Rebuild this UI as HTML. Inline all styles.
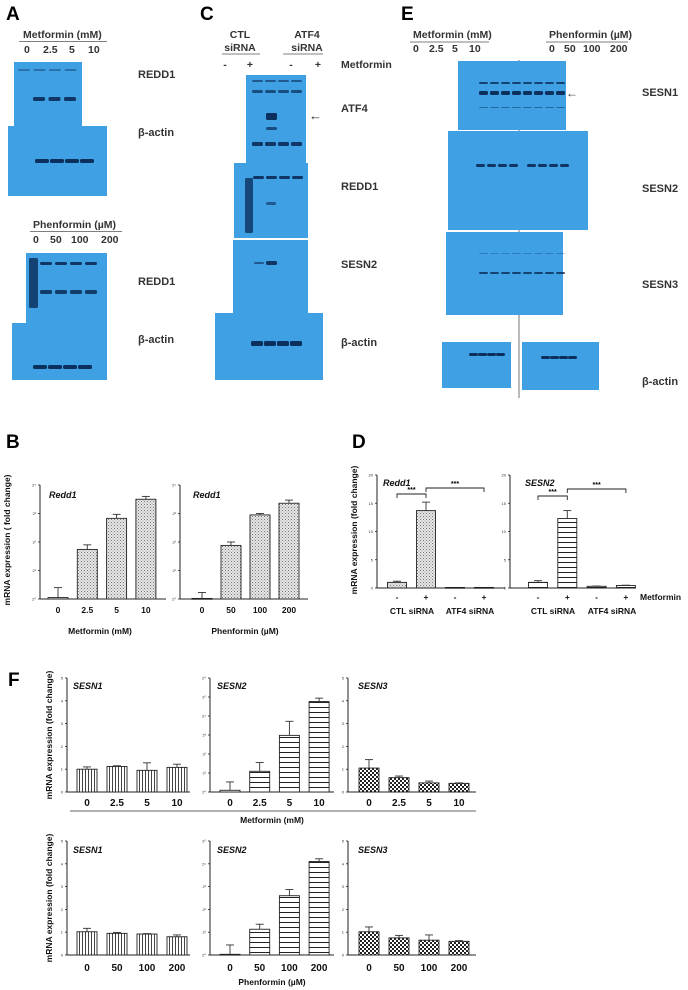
<!DOCTYPE html>
<html><head><meta charset="utf-8"><style>
html,body{margin:0;padding:0;background:#fff;}
svg{display:block;font-family:"Liberation Sans",Arial,sans-serif;}
.lbl{font-weight:bold;font-size:11px;fill:#333;}
.pl{font-weight:bold;font-size:19px;fill:#000;}
.hd{font-weight:bold;font-size:10.5px;fill:#333;}
.tk{font-size:4px;fill:#333;}
.xt{font-weight:bold;font-size:10px;fill:#111;}
.ttl{font-weight:bold;font-style:italic;font-size:9px;fill:#111;}
.ax{font-weight:bold;font-size:8.5px;fill:#111;}
</style></head><body>
<svg id="fig" width="688" height="990" viewBox="0 0 688 990" xmlns="http://www.w3.org/2000/svg">
<defs>
<pattern id="pDots" width="3" height="3" patternUnits="userSpaceOnUse"><rect width="3" height="3" fill="#e6e6e6"/><rect x="0" y="0" width="1" height="1" fill="#777"/><rect x="1.5" y="1.5" width="1" height="1" fill="#999"/></pattern>
<pattern id="pH" width="6" height="5" patternUnits="userSpaceOnUse"><rect width="6" height="5" fill="#fff"/><rect y="2" width="6" height="1" fill="#222"/></pattern>
<pattern id="pV" width="3" height="6" patternUnits="userSpaceOnUse"><rect width="3" height="6" fill="#fff"/><rect x="1" width="1" height="6" fill="#444"/></pattern>
<pattern id="pC" width="4" height="4" patternUnits="userSpaceOnUse"><rect width="4" height="4" fill="#fff"/><rect width="2" height="2" fill="#222"/><rect x="2" y="2" width="2" height="2" fill="#222"/></pattern>
</defs>

<!-- Panel letters -->
<text class="pl" x="6" y="20">A</text>
<text class="pl" x="200" y="20">C</text>
<text class="pl" x="401" y="20">E</text>
<text class="pl" x="6" y="448">B</text>
<text class="pl" x="352" y="448">D</text>
<text class="pl" x="8" y="686">F</text>

<!-- Panel A headers -->
<g>
<text class="hd" x="23" y="38">Metformin (mM)</text>
<line x1="19" y1="41.5" x2="107" y2="41.5" stroke="#555" stroke-width="0.8"/>
<text class="hd" x="24" y="53">0</text><text class="hd" x="43" y="53">2.5</text><text class="hd" x="69" y="53">5</text><text class="hd" x="88" y="53">10</text>
<text class="hd" x="33" y="228">Phenformin (µM)</text>
<line x1="30" y1="231.5" x2="122" y2="231.5" stroke="#555" stroke-width="0.8"/>
<text class="hd" x="33" y="243">0</text><text class="hd" x="50" y="243">50</text><text class="hd" x="71" y="243">100</text><text class="hd" x="101" y="243">200</text>
</g>
<!-- Panel C headers -->
<g>
<text class="hd" x="240" y="38" text-anchor="middle">CTL</text><text class="hd" x="240" y="51" text-anchor="middle">siRNA</text>
<line x1="222" y1="54" x2="260" y2="54" stroke="#555" stroke-width="0.8"/>
<text class="hd" x="307" y="38" text-anchor="middle">ATF4</text><text class="hd" x="307" y="51" text-anchor="middle">siRNA</text>
<line x1="283" y1="54" x2="323" y2="54" stroke="#555" stroke-width="0.8"/>
<text class="hd" x="225" y="68" text-anchor="middle">-</text><text class="hd" x="250" y="68" text-anchor="middle">+</text><text class="hd" x="291" y="68" text-anchor="middle">-</text><text class="hd" x="318" y="68" text-anchor="middle">+</text>
<text class="hd" x="341" y="68">Metformin</text>
</g>
<!-- Panel E headers -->
<g>
<text class="hd" x="413" y="38">Metformin (mM)</text>
<line x1="410" y1="42" x2="489" y2="42" stroke="#555" stroke-width="0.8"/>
<text class="hd" x="413" y="52">0</text><text class="hd" x="429" y="52">2.5</text><text class="hd" x="452" y="52">5</text><text class="hd" x="469" y="52">10</text>
<text class="hd" x="549" y="38">Phenformin (µM)</text>
<line x1="546" y1="42" x2="628" y2="42" stroke="#555" stroke-width="0.8"/>
<text class="hd" x="549" y="52">0</text><text class="hd" x="564" y="52">50</text><text class="hd" x="583" y="52">100</text><text class="hd" x="610" y="52">200</text>
<line x1="519" y1="60" x2="519" y2="398" stroke="#555" stroke-width="0.8"/>
</g>
<g id="blots"></g>
<g id="charts"></g>
</svg>
<script>
// ---------- chart data ----------
const bCats1 = ["0","2.5","5","10"];
const bVals1 = [0.05,1.74,2.83,3.5];
const bErr1 = [0.4,1.9,2.97,3.6];
const bCats2 = ["0","50","100","200"];
const bVals2 = [0.02,1.88,2.95,3.36];
const bErr2 = [0.23,2.0,3.0,3.47];
const bTicks = ["2⁰","2¹","2²","2³","2⁴"];

const dCats = ["-","+","-","+"];
const dRedd1 = [1.0,13.7,0.1,0.1];
const dRedd1Err = [1.2,15.2,0.1,0.1];
const dSesn2 = [1.0,12.3,0.3,0.45];
const dSesn2Err = [1.3,13.7,0.35,0.5];
const dTicks = ["0","5","10","15","20"];

const fMetCats = ["0","2.5","5","10"];
const fPhenCats = ["0","50","100","200"];
const fMetS1 = [1.0,1.12,0.95,1.08];
const fMetS1Err = [1.1,1.15,1.28,1.22];
const fMetS2 = [0.09,1.09,2.98,4.76];
const fMetS2Err = [0.53,1.55,3.72,4.94];
const fMetS3 = [1.05,0.63,0.4,0.38];
const fMetS3Err = [1.42,0.7,0.48,0.4];
const fPhenS1 = [1.02,0.95,0.92,0.8];
const fPhenS1Err = [1.17,0.99,0.94,0.88];
const fPhenS2 = [0.03,1.13,2.6,4.1];
const fPhenS2Err = [0.44,1.35,2.87,4.22];
const fPhenS3 = [1.02,0.75,0.65,0.6];
const fPhenS3Err = [1.23,0.86,0.88,0.63];
const fLinTicks = ["0","1","2","3","4","5"];
const fLog6Ticks = ["2⁰","2¹","2²","2³","2⁴","2⁵","2⁶"];
const fLog5Ticks = ["2⁰","2¹","2²","2³","2⁴","2⁵"];

const NS = "http://www.w3.org/2000/svg";
function mk(tag, attrs, parent){const e=document.createElementNS(NS,tag);for(const k in attrs)e.setAttribute(k,attrs[k]);parent.appendChild(e);return e;}
const charts = document.getElementById('charts');

function chart(o){
  const g = mk('g',{},charts);
  
  
  const n = o.ticks.length-1;
  const yMax = o.yMax;
  const ys = v => o.y1 - (v/yMax)*(o.y1-o.y0);
  const xs = i => o.x0 + o.first + i*o.step;
  // axes
  mk('line',{x1:o.ax,y1:o.y0,x2:o.ax,y2:o.y1,stroke:'#222','stroke-width':1},g);
  mk('line',{x1:o.ax,y1:o.y1,x2:o.xEnd,y2:o.y1,stroke:'#222','stroke-width':1},g);
  o.ticks.forEach((t,i)=>{
    const y = ys(i*yMax/n);
    mk('line',{x1:o.ax-2,y1:y,x2:o.ax,y2:y,stroke:'#222','stroke-width':0.8},g);
    const tx = mk('text',{x:o.ax-4,y:y+1.5,'text-anchor':'end',class:'tk'},g); tx.textContent=t;
  });
  o.vals.forEach((v,i)=>{
    const cx = xs(i), top = ys(v), et = ys(o.err[i]);
    const bar = mk('rect',{x:cx-o.bw/2,y:top,width:o.bw,height:Math.max(o.y1-top,0.8),fill:'url(#'+o.pat+')',stroke:'#222','stroke-width':0.9},g);
    
    
    if(o.err[i]>v+0.001){
      mk('line',{x1:cx,y1:top,x2:cx,y2:et,stroke:'#333','stroke-width':0.9},g);
      mk('line',{x1:cx-4,y1:et,x2:cx+4,y2:et,stroke:'#333','stroke-width':0.9},g);
    }
    if(o.cats){
      const lt = mk('text',{x:cx,y:o.catY,'text-anchor':'middle',class:o.catCls||'ax'},g); lt.textContent=o.cats[i];
    }
  });
  const tt = mk('text',{x:o.ttlX,y:o.ttlY,class:'ttl'},g); tt.textContent=o.title;
  return {g,ys,xs};
}

// ---------- B ----------
chart({name:'chart-b-metformin',ax:40,x0:40,first:18,step:29.3,bw:20,y0:485,y1:599,xEnd:166,yMax:4,ticks:bTicks,vals:bVals1,err:bErr1,cats:bCats1,catY:613,title:'Redd1',ttlX:49,ttlY:498,pat:'pDots'});
chart({name:'chart-b-phenformin',ax:180,x0:180,first:22,step:29,bw:20,y0:485,y1:599,xEnd:308,yMax:4,ticks:bTicks,vals:bVals2,err:bErr2,cats:bCats2,catY:613,title:'Redd1',ttlX:193,ttlY:498,pat:'pDots'});
// ---------- D ----------
const d1 = chart({name:'chart-d-redd1',ax:377,x0:377,first:20,step:29,bw:19,y0:475,y1:588,xEnd:505,yMax:20,ticks:dTicks,vals:dRedd1,err:dRedd1Err,cats:dCats,catY:600,catCls:'ax',title:'Redd1',ttlX:383,ttlY:486,pat:'pDots'});
const d2 = chart({name:'chart-d-sesn2',ax:510,x0:510,first:28,step:29.3,bw:19,y0:475,y1:588,xEnd:636,yMax:20,ticks:dTicks,vals:dSesn2,err:dSesn2Err,cats:dCats,catY:600,catCls:'ax',title:'SESN2',ttlX:525,ttlY:486,pat:'pH'});
function bracket(c,i,j,y,yd,name){
  const g = mk('g',{},charts);
  
  
  const xa=c.xs(i), xb=c.xs(j);
  mk('path',{d:`M${xa},${yd} V${y} H${xb} V${yd}`,fill:'none',stroke:'#222','stroke-width':0.9},g);
  const t = mk('text',{x:(xa+xb)/2,y:y-2,'text-anchor':'middle','font-size':'7','font-weight':'bold'},g); t.textContent='***';
}
bracket(d1,0,1,494,498,'sig-bracket-redd1-ctl');
bracket(d1,1,3,488,492,'sig-bracket-redd1-atf4');
bracket(d2,0,1,496,500,'sig-bracket-sesn2-ctl');
bracket(d2,1,3,489,493,'sig-bracket-sesn2-atf4');
// ---------- F ----------
const fT=678, fB=792, fT2=841, fB2=955;
chart({name:'chart-f-met-sesn1',ax:67,x0:67,first:20,step:30,bw:20,y0:fT,y1:fB,xEnd:190,yMax:5,ticks:fLinTicks,vals:fMetS1,err:fMetS1Err,cats:fMetCats,catY:806,catCls:'xt',title:'SESN1',ttlX:73,ttlY:689,pat:'pV'});
chart({name:'chart-f-met-sesn2',ax:210,x0:210,first:20,step:29.7,bw:20,y0:fT,y1:fB,xEnd:334,yMax:6,ticks:fLog6Ticks,vals:fMetS2,err:fMetS2Err,cats:fMetCats,catY:806,catCls:'xt',title:'SESN2',ttlX:217,ttlY:689,pat:'pH'});
chart({name:'chart-f-met-sesn3',ax:348,x0:348,first:21,step:30,bw:20,y0:fT,y1:fB,xEnd:476,yMax:5,ticks:fLinTicks,vals:fMetS3,err:fMetS3Err,cats:fMetCats,catY:806,catCls:'xt',title:'SESN3',ttlX:358,ttlY:689,pat:'pC'});
chart({name:'chart-f-phen-sesn1',ax:67,x0:67,first:20,step:30,bw:20,y0:fT2,y1:fB2,xEnd:190,yMax:5,ticks:fLinTicks,vals:fPhenS1,err:fPhenS1Err,cats:fPhenCats,catY:971,catCls:'xt',title:'SESN1',ttlX:73,ttlY:853,pat:'pV'});
chart({name:'chart-f-phen-sesn2',ax:210,x0:210,first:20,step:29.7,bw:20,y0:fT2,y1:fB2,xEnd:334,yMax:5,ticks:fLog5Ticks,vals:fPhenS2,err:fPhenS2Err,cats:fPhenCats,catY:971,catCls:'xt',title:'SESN2',ttlX:217,ttlY:853,pat:'pH'});
chart({name:'chart-f-phen-sesn3',ax:348,x0:348,first:21,step:30,bw:20,y0:fT2,y1:fB2,xEnd:476,yMax:5,ticks:fLinTicks,vals:fPhenS3,err:fPhenS3Err,cats:fPhenCats,catY:971,catCls:'xt',title:'SESN3',ttlX:358,ttlY:853,pat:'pC'});

// ---------- axis titles ----------
function txt(x,y,s,cls,name,extra){
  const t = mk('text',Object.assign({x:x,y:y,class:cls},extra||{}),charts);
  t.textContent = s;
  
  
  return t;
}
txt(10,540,'mRNA expression ( fold change)','ax','y-axis-title-b',{transform:'rotate(-90 10 540)','text-anchor':'middle'});
txt(100,634,'Metformin (mM)','ax','x-axis-title-b-metformin',{'text-anchor':'middle'});
txt(245,634,'Phenformin (µM)','ax','x-axis-title-b-phenformin',{'text-anchor':'middle'});
txt(357,530,'mRNA expression (fold change)','ax','y-axis-title-d',{transform:'rotate(-90 357 530)','text-anchor':'middle'});
txt(640,600,'Metformin','ax','metformin-label-d',{});
txt(412,614,'CTL siRNA','ax','x-group-ctl-sirna-left',{'text-anchor':'middle'});
txt(470,614,'ATF4 siRNA','ax','x-group-atf4-sirna-left',{'text-anchor':'middle'});
txt(553,614,'CTL siRNA','ax','x-group-ctl-sirna-right',{'text-anchor':'middle'});
txt(612,614,'ATF4 siRNA','ax','x-group-atf4-sirna-right',{'text-anchor':'middle'});
txt(52,735,'mRNA expression (fold change)','ax','y-axis-title-f-top',{transform:'rotate(-90 52 735)','text-anchor':'middle'});
txt(52,898,'mRNA expression (fold change)','ax','y-axis-title-f-bottom',{transform:'rotate(-90 52 898)','text-anchor':'middle'});
mk('line',{x1:70,y1:811,x2:476,y2:811,stroke:'#333','stroke-width':0.8},charts);
txt(272,823,'Metformin (mM)','ax','x-axis-title-f-metformin',{'text-anchor':'middle'});
txt(272,985,'Phenformin (µM)','ax','x-axis-title-f-phenformin',{'text-anchor':'middle'});

// ---------- blots (decor) ----------
const blotsG = document.getElementById('blots');
function blot(name,x,y,w,h,bands,label,lx,ly){
  const g = mk('g',{},blotsG);
  
  
  mk('rect',{x:x,y:y,width:w,height:h,fill:'#3fa0e4'},g);
  bands.forEach(b=>mk('rect',{x:b[0],y:b[1],width:b[2],height:b[3]||3,rx:1.5,fill:'#0a2a55',opacity:b[4]||0.9},g));
  if(label){const t=mk('text',{x:lx,y:ly,class:'lbl'},g);t.textContent=label;}
}
function lanes(x0,step,n,y,w,h,op){const r=[];for(let i=0;i<n;i++)r.push([x0+i*step,y,w,h,op]);return r;}
blot('blot-a-redd1-met',14,62,68,66,[].concat(lanes(18,15.5,4,69,12,2,0.4),lanes(33,15.5,3,97,12,4,0.9)),'REDD1',138,78);
blot('blot-a-actin-met',8,126,99,70,lanes(35,15,4,159,14,4,0.95),'β-actin',138,136);
blot('blot-a-redd1-phen',26,253,81,70,[[29,258,9,50,0.8]].concat(lanes(40,15,4,262,12,3,0.9),lanes(40,15,4,290,12,4,0.85)),'REDD1',138,285);
blot('blot-a-actin-phen',12,323,95,57,lanes(33,15,4,365,14,4,0.95),'β-actin',138,343);
blot('blot-c-atf4',246,75,60,88,[].concat(lanes(252,13,4,80,11,2,0.6),lanes(252,13,4,90,11,3,0.7),lanes(252,13,4,142,11,4,0.9),[[266,113,11,7,0.95],[266,127,11,3,0.7]]),'ATF4',341,112);
blot('blot-c-redd1',234,163,74,75,[].concat(lanes(253,13,4,176,11,3,0.9),[[245,178,8,55,0.75],[266,202,10,3,0.6]]),'REDD1',341,190);
blot('blot-c-sesn2',233,240,75,73,[[254,262,10,2,0.6],[266,261,11,4,0.9]],'SESN2',341,268);
blot('blot-c-actin',215,313,108,67,lanes(251,13,4,341,12,5,0.95),'β-actin',341,346);
blot('blot-e-sesn1',458,61,108,69,[].concat(lanes(479,11,8,82,9,2,0.8),lanes(479,11,8,91,9,4,0.95),lanes(479,11,8,107,9,1,0.5)),'SESN1',642,96);
blot('blot-e-sesn2',448,131,140,99,[].concat(lanes(476,11,4,164,9,3,0.9),lanes(527,11,4,164,9,3,0.9)),'SESN2',642,192);
blot('blot-e-sesn3',446,232,117,83,[].concat(lanes(479,11,8,253,9,1,0.3),lanes(479,11,8,272,9,2,0.8)),'SESN3',642,288);
blot('blot-e-actin-met',442,342,69,46,lanes(469,9,4,353,9,3,0.95),null);
blot('blot-e-actin-phen',522,342,77,48,lanes(541,9,4,356,9,3,0.95),'β-actin',642,385);
// arrows
mk('text',{x:309,y:120,'font-size':'13',fill:'#333'},blotsG).textContent='←';
mk('text',{x:566,y:97,'font-size':'12',fill:'#333'},blotsG).textContent='←';
</script>
</body></html>
